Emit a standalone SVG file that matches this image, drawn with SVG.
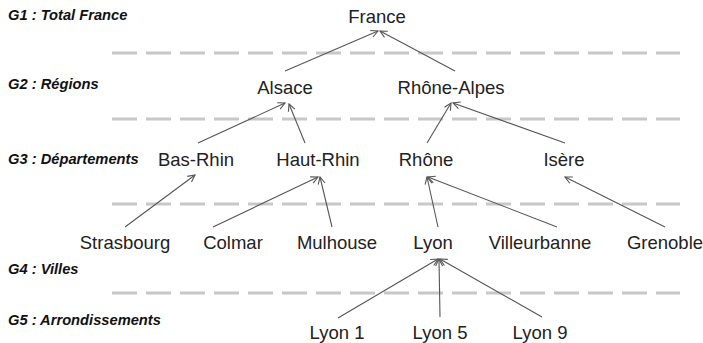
<svg xmlns="http://www.w3.org/2000/svg" width="703" height="343" viewBox="0 0 703 343">
<defs>
<style>
.n{font-family:"Liberation Sans",Arial,sans-serif;font-size:18.5px;fill:#222;text-anchor:middle}
.g{font-family:"Liberation Sans",Arial,sans-serif;font-size:14.7px;font-weight:bold;font-style:italic;fill:#111}
.d{stroke:#c8c8c8;stroke-width:3;stroke-dasharray:25 9;fill:none}
.c line{stroke:#555;stroke-width:1.1;marker-end:url(#ah)}
</style>
<marker id="ah" viewBox="-9 -5 10 10" refX="0" refY="0" markerWidth="10" markerHeight="10" markerUnits="userSpaceOnUse" orient="auto">
<path d="M-7,-3.5 L0,0 L-7,3.5" fill="none" stroke="#555" stroke-width="1.1"/>
</marker>
</defs>
<rect width="703" height="343" fill="#fff"/>
<g id="separators">
<line class="d" x1="112" y1="53" x2="680" y2="53"/>
<line class="d" x1="112" y1="119" x2="680" y2="119"/>
<line class="d" x1="112" y1="204" x2="680" y2="204"/>
<line class="d" x1="112" y1="293" x2="680" y2="293"/>
</g>
<g id="levels">
<text class="g" x="8" y="20">G1 : Total France</text>
<text class="g" x="8" y="89">G2 : Régions</text>
<text class="g" x="8" y="164">G3 : Départements</text>
<text class="g" x="8" y="274">G4 : Villes</text>
<text class="g" x="8" y="325">G5 : Arrondissements</text>
</g>
<g id="connectors" class="c">
<line x1="285" y1="71" x2="378" y2="31"/>
<line x1="455" y1="71" x2="380" y2="31"/>
<line x1="198" y1="143" x2="285" y2="103"/>
<line x1="305" y1="143" x2="289" y2="104"/>
<line x1="427" y1="143" x2="451" y2="103"/>
<line x1="565" y1="143" x2="453" y2="103"/>
<line x1="125" y1="227" x2="195" y2="175"/>
<line x1="213" y1="227" x2="318" y2="177"/>
<line x1="332" y1="227" x2="320" y2="177"/>
<line x1="438" y1="227" x2="427" y2="177"/>
<line x1="557" y1="227" x2="428" y2="177"/>
<line x1="665" y1="227" x2="565" y2="177"/>
<line x1="338" y1="318" x2="438" y2="259"/>
<line x1="440" y1="317" x2="439" y2="259"/>
<line x1="542" y1="317" x2="440" y2="259"/>
</g>
<g id="france"><text class="n" x="377" y="23">France</text></g>
<g id="alsace"><text class="n" x="285" y="94">Alsace</text></g>
<g id="rhone-alpes"><text class="n" x="451" y="94">Rhône-Alpes</text></g>
<g id="bas-rhin"><text class="n" x="196" y="166">Bas-Rhin</text></g>
<g id="haut-rhin"><text class="n" x="318" y="166">Haut-Rhin</text></g>
<g id="rhone"><text class="n" x="426" y="166">Rhône</text></g>
<g id="isere"><text class="n" x="564" y="166">Isère</text></g>
<g id="strasbourg"><text class="n" x="125" y="249">Strasbourg</text></g>
<g id="colmar"><text class="n" x="233" y="249">Colmar</text></g>
<g id="mulhouse"><text class="n" x="337" y="249">Mulhouse</text></g>
<g id="lyon"><text class="n" x="433" y="249">Lyon</text></g>
<g id="villeurbanne"><text class="n" x="540" y="249">Villeurbanne</text></g>
<g id="grenoble"><text class="n" x="665" y="249">Grenoble</text></g>
<g id="lyon1"><text class="n" x="337" y="339">Lyon 1</text></g>
<g id="lyon5"><text class="n" x="440" y="339">Lyon 5</text></g>
<g id="lyon9"><text class="n" x="540" y="339">Lyon 9</text></g>
</svg>
